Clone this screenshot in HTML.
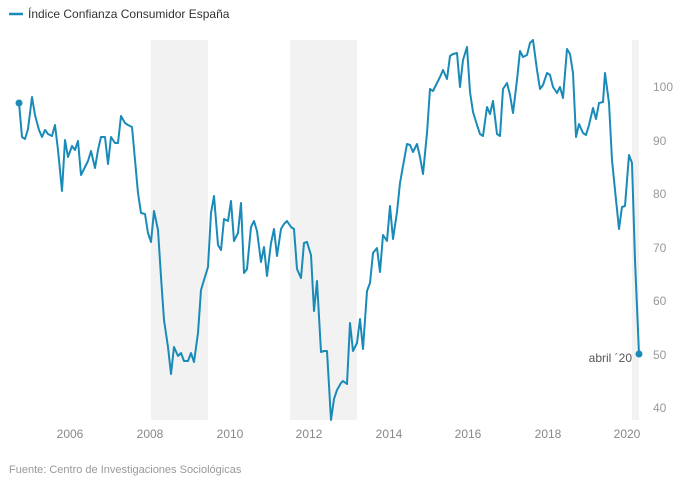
<!DOCTYPE html>
<html><head><meta charset="utf-8"><style>
body{margin:0;width:680px;height:480px;background:#fff;font-family:"Liberation Sans",sans-serif;overflow:hidden}
</style></head><body>
<svg width="680" height="480" xmlns="http://www.w3.org/2000/svg" font-family="Liberation Sans, sans-serif">
<line x1="9" y1="14" x2="23" y2="14" stroke="#1a8bb8" stroke-width="2.5"/>
<text x="28" y="18" font-size="12" fill="#333">Índice Confianza Consumidor España</text>
<rect x="151" y="40" width="57" height="380" fill="#f2f2f2"/>
<rect x="290" y="40" width="67" height="380" fill="#f2f2f2"/>
<rect x="632" y="40" width="7" height="380" fill="#f2f2f2"/>
<g font-size="12" fill="#999">
<text x="653" y="91">100</text><text x="653" y="145">90</text><text x="653" y="198">80</text>
<text x="653" y="252">70</text><text x="653" y="305">60</text><text x="653" y="359">50</text><text x="653" y="412">40</text>
</g>
<g font-size="12" fill="#888" text-anchor="middle">
<text x="70" y="438">2006</text><text x="150" y="438">2008</text><text x="230" y="438">2010</text><text x="309" y="438">2012</text>
<text x="389" y="438">2014</text><text x="468" y="438">2016</text><text x="548" y="438">2018</text><text x="627" y="438">2020</text>
</g>
<polyline fill="none" stroke="#1a8bb8" stroke-width="2" stroke-linejoin="round" points="19,103 22,137 25,139 28,129 32,97 35,115 39,130 42,137 45,130 48,134 52,136 55,125 58,150 62,191 65,140 68,157 72,146 75,150 78,141 81,175 85,167 88,161 91,151 95,168 98,150 101,137 105,137 108,164 111,137 115,143 118,143 121,116 125,123 128,125 132,127 135,160 138,193 141,213 145,214 148,233 151,242 154,211 158,230 161,277 164,320 168,347 171,374 174,347 178,356 181,353 184,361 188,361 191,353 194,362 198,333 201,290 204,280 208,267 211,213 214,196 218,245 221,250 224,219 228,221 231,201 234,241 238,233 241,203 244,273 247,269 251,227 254,221 257,231 261,262 264,247 267,276 271,243 274,229 277,256 281,229 284,224 287,221 291,227 294,229 297,269 301,278 304,243 307,242 311,255 314,311 317,281 321,352 324,351 327,351 331,420 334,399 337,390 341,383 343,381 347,384 350,323 353,351 357,343 360,319 363,349 367,291 370,283 373,253 377,248 380,272 383,235 387,241 390,206 393,239 397,212 400,183 403,166 407,144 410,145 413,152 417,144 420,157 423,174 427,133 430,89 433,91 437,83 440,77 443,70 447,79 450,56 453,54 457,53 460,87 463,60 467,47 470,92 473,112 477,125 480,134 483,136 487,107 490,114 493,101 497,134 500,136 503,89 507,83 510,95 513,113 517,80 520,51 523,57 527,55 530,43 533,40 537,70 540,89 543,85 547,73 550,75 553,87 557,93 560,87 563,98 567,49 570,54 573,73 576,137 579,124 583,133 586,135 589,125 593,108 596,119 599,103 603,102 605,73 609,103 612,160 615,190 619,229 622,207 625,206 629,155 632,163 635,260 639,354"/>
<circle cx="19" cy="103" r="3.5" fill="#1a8bb8"/>
<circle cx="639" cy="354" r="3.5" fill="#1a8bb8"/>
<text x="632" y="362" font-size="12" fill="#555" text-anchor="end">abril ´20</text>
<text x="9" y="473" font-size="11" fill="#999">Fuente: Centro de Investigaciones Sociológicas</text>
</svg>
</body></html>
